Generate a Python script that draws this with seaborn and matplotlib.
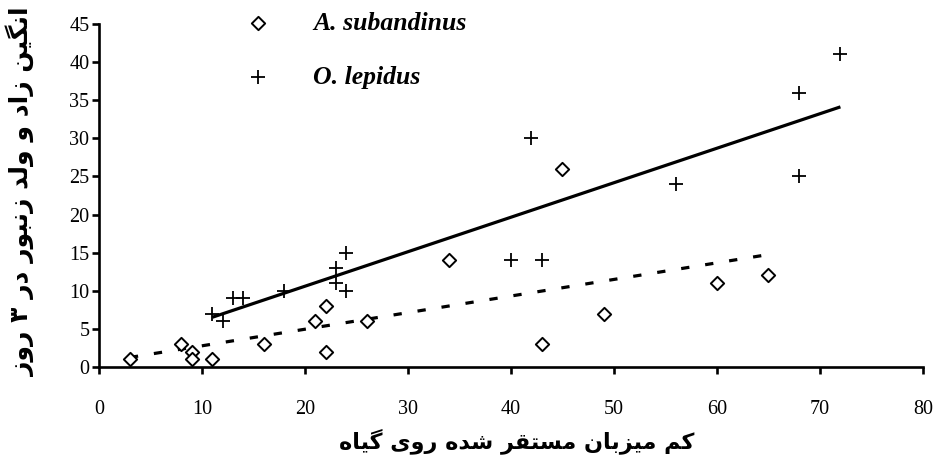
import matplotlib
matplotlib.use("Agg")
import matplotlib.pyplot as plt
import seaborn as sns

# ---------------- data ----------------
series_names = ["A. subandinus", "O. lepidus"]
sub_x = [3, 8, 9, 9, 11, 16, 21, 22, 22, 26, 34, 43, 45, 49, 60, 65]
sub_y = [1, 3, 2, 1, 1, 3, 6, 8, 2, 6, 14, 3, 26, 7, 11, 12]
lep_x = [11, 12, 13, 14, 18, 23, 23, 24, 24, 40, 42, 43, 56, 68, 68, 72]
lep_y = [7, 6, 9, 9, 10, 13, 11, 15, 10, 14, 30, 14, 24, 36, 25, 41]
x_ticks = [0, 10, 20, 30, 40, 50, 60, 70, 80]
y_ticks = [0, 5, 10, 15, 20, 25, 30, 35, 40, 45]
x_label = "کم میزبان مستقر شده روی گیاه"
y_label = "انگین زاد و ولد زنبور در ۳ روز"

# -------- minimal Arabic/Persian shaping (matplotlib has no text shaping) --------
FORMS = {
    'ا': ('\uFE8D', '\uFE8E', None, None),
    'ب': ('\uFE8F', '\uFE90', '\uFE91', '\uFE92'),
    'ت': ('\uFE95', '\uFE96', '\uFE97', '\uFE98'),
    'د': ('\uFEA9', '\uFEAA', None, None),
    'ر': ('\uFEAD', '\uFEAE', None, None),
    'ز': ('\uFEAF', '\uFEB0', None, None),
    'س': ('\uFEB1', '\uFEB2', '\uFEB3', '\uFEB4'),
    'ش': ('\uFEB5', '\uFEB6', '\uFEB7', '\uFEB8'),
    'ق': ('\uFED5', '\uFED6', '\uFED7', '\uFED8'),
    'ک': ('\uFB8E', '\uFB8F', '\uFB90', '\uFB91'),
    'گ': ('\uFB92', '\uFB93', '\uFB94', '\uFB95'),
    'ل': ('\uFEDD', '\uFEDE', '\uFEDF', '\uFEE0'),
    'م': ('\uFEE1', '\uFEE2', '\uFEE3', '\uFEE4'),
    'ن': ('\uFEE5', '\uFEE6', '\uFEE7', '\uFEE8'),
    'ه': ('\uFEE9', '\uFEEA', '\uFEEB', '\uFEEC'),
    'و': ('\uFEED', '\uFEEE', None, None),
    'ی': ('\uFBFC', '\uFBFD', '\uFBFE', '\uFBFF'),
}


def shape(text):
    out = []
    n = len(text)
    for i, ch in enumerate(text):
        if ch not in FORMS:
            out.append(ch)
            continue
        prev = text[i - 1] if i > 0 else ''
        nxt = text[i + 1] if i < n - 1 else ''
        pj = prev in FORMS and FORMS[prev][2] is not None
        nj = nxt in FORMS and FORMS[ch][2] is not None
        iso, fin, ini, med = FORMS[ch]
        if pj and nj:
            out.append(med)
        elif pj:
            out.append(fin)
        elif nj:
            out.append(ini)
        else:
            out.append(iso)
    return ''.join(reversed(out))


# ---------------- figure ----------------
sns.set_style("ticks")
plt.rcParams['font.family'] = ['Liberation Serif', 'DejaVu Sans']
for k in ['text.color', 'axes.labelcolor', 'xtick.color', 'ytick.color', 'axes.edgecolor']:
    plt.rcParams[k] = 'black'

fig = plt.figure(figsize=(9.34, 4.61), dpi=100)
ax = fig.add_axes([0.106, 0.204, 0.882, 0.744])

sns.regplot(x=lep_x, y=lep_y, scatter=False, ci=None, truncate=True, color='black',
            line_kws=dict(lw=2.3, solid_capstyle='butt', zorder=2), ax=ax)
sns.regplot(x=sub_x, y=sub_y, scatter=False, ci=None, truncate=True, color='black',
            line_kws=dict(lw=2.3, linestyle=(0, (2.6, 5.0)), zorder=2), ax=ax)

sns.scatterplot(x=sub_x, y=sub_y, marker='D', s=46, color='white', edgecolor='black',
                linewidth=1.4, ax=ax, label=series_names[0], zorder=3)
sns.scatterplot(x=lep_x, y=lep_y, marker='+', s=110, color='black',
                linewidth=1.3, ax=ax, label=series_names[1], zorder=3)

ax.set_xlim(0, 80)
ax.set_ylim(0, 45)
ax.set_xticks(x_ticks)
ax.set_yticks(y_ticks)
ax.set_xticklabels([str(v) for v in x_ticks])
ax.set_yticklabels([str(v) for v in y_ticks])

for s in ['top', 'right']:
    ax.spines[s].set_visible(False)
for s in ['left', 'bottom']:
    ax.spines[s].set_linewidth(1.9)
    ax.spines[s].set_color('black')

ax.tick_params(axis='both', direction='out', length=5, width=1.9, colors='black',
               labelsize=14.5)
ax.tick_params(axis='x', pad=19)
ax.tick_params(axis='y', pad=2)

ax.set_xlabel(shape(x_label), fontfamily=['DejaVu Sans'], fontweight='bold', fontsize=16)
ax.set_ylabel(shape(y_label), fontfamily=['DejaVu Sans'], fontweight='bold', fontsize=18)
ax.xaxis.set_label_coords(0.507, -0.178)
ax.yaxis.set_label_coords(-0.078, 0.51)

leg = ax.legend(loc='upper left', bbox_to_anchor=(0.178, 1.035), frameon=False,
                borderaxespad=0, borderpad=0, handlelength=1.0, handletextpad=1.62,
                labelspacing=1.2,
                prop=dict(family='Liberation Serif', weight='bold', style='italic', size=18.5))

fig.savefig("out.png", dpi=100)
